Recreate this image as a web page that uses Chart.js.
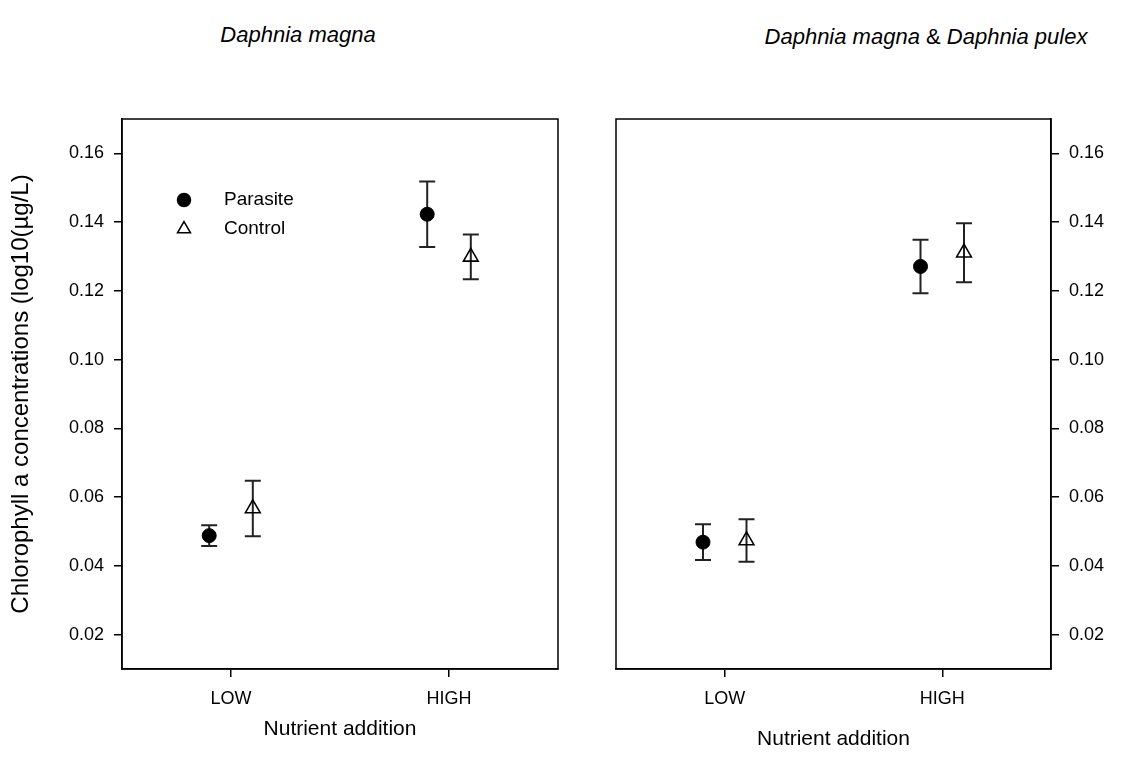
<!DOCTYPE html>
<html><head><meta charset="utf-8">
<script src="https://cdn.jsdelivr.net/npm/chart.js@4.4.1/dist/chart.umd.min.js"></script>
<style>
html,body{margin:0;padding:0;background:#fff;width:1125px;height:763px;overflow:hidden;}
#wrap{position:relative;width:1125px;height:763px;}
canvas{position:absolute;top:0;}
.t{position:absolute;font-family:'Liberation Sans',Arial,sans-serif;font-size:22px;color:#000;white-space:nowrap;transform:translate(-50%,-50%);}
</style></head><body>
<div id="wrap">
<div class="t" style="left:298px;top:35px"><i>Daphnia magna</i></div>
<div class="t" style="left:926px;top:37px"><i>Daphnia magna</i> &amp; <i>Daphnia pulex</i></div>
<canvas id="c1" width="590" height="763" style="left:0;width:590px;height:763px"></canvas>
<canvas id="c2" width="535" height="763" style="left:590px;width:535px;height:763px"></canvas>
</div>
<script>
// ---- data ----
const categories = ['LOW', 'HIGH'];
const seriesNames = ['Parasite', 'Control'];
const yTicks = [0.02, 0.04, 0.06, 0.08, 0.10, 0.12, 0.14, 0.16];
// Daphnia magna panel
const magnaParasite = [0.0488, 0.1423];
const magnaParasiteErr = [0.0030, 0.0095];
const magnaControl = [0.0567, 0.1299];
const magnaControlErr = [0.0081, 0.0065];
// Daphnia magna & Daphnia pulex panel
const mixParasite = [0.0469, 0.1271];
const mixParasiteErr = [0.0052, 0.0078];
const mixControl = [0.0474, 0.1311];
const mixControlErr = [0.0062, 0.0086];

const FONT = "'Liberation Sans', Arial, sans-serif";
Chart.defaults.font.family = FONT;
Chart.defaults.color = '#000';
const DODGE = 0.1;

function pts(vals, shift) { return vals.map((v, i) => ({ x: i + 1 + shift, y: v })); }

const errorBars = {
  id: 'errorBars',
  beforeDatasetsDraw(chart) {
    const ctx = chart.ctx, ys = chart.scales.y;
    ctx.save();
    ctx.strokeStyle = '#222';
    ctx.lineWidth = 2;
    chart.data.datasets.forEach((ds, di) => {
      const meta = chart.getDatasetMeta(di);
      meta.data.forEach((el, i) => {
        const v = ds.data[i].y, e = ds.err[i];
        const yt = ys.getPixelForValue(v + e), yb = ys.getPixelForValue(v - e);
        const x = el.x, cw = 8;
        ctx.beginPath();
        ctx.moveTo(x, yt); ctx.lineTo(x, yb);
        ctx.moveTo(x - cw, yt); ctx.lineTo(x + cw, yt);
        ctx.moveTo(x - cw, yb); ctx.lineTo(x + cw, yb);
        ctx.stroke();
      });
    });
    ctx.restore();
  }
};

const frame = {
  id: 'frame',
  afterDraw(chart) {
    const a = chart.chartArea, ctx = chart.ctx;
    ctx.save();
    ctx.strokeStyle = '#000';
    ctx.lineWidth = 1.5;
    ctx.strokeRect(a.left, a.top, a.right - a.left, a.bottom - a.top);
    ctx.restore();
  }
};

const inLegend = {
  id: 'inLegend',
  afterDraw(chart, args, opts) {
    if (!opts.show) return;
    const ctx = chart.ctx, a = chart.chartArea;
    ctx.save();
    chart.data.datasets.forEach((ds, i) => {
      const x = a.left + 62, y = a.top + 81 + i * 29;
      ctx.strokeStyle = '#000';
      ctx.fillStyle = ds.pointBackgroundColor;
      ctx.lineWidth = 1.5;
      Chart.helpers.drawPoint(ctx, { pointStyle: ds.pointStyle, radius: ds.pointStyle === 'circle' ? 6.5 : 7.5, borderWidth: 1.5 }, x, y);
      ctx.fillStyle = '#000';
      ctx.font = '19px ' + FONT;
      ctx.textBaseline = 'middle';
      ctx.textAlign = 'left';
      ctx.fillText(ds.label, x + 40, y);
    });
    ctx.restore();
  }
};

function makePanel(id, par, parErr, con, conErr, side, geo) {
  const datasets = [
    { label: seriesNames[0], data: pts(par, -DODGE), err: parErr, pointStyle: 'circle', pointRadius: 7,
      pointBackgroundColor: '#000', pointBorderColor: '#000', pointBorderWidth: 1, showLine: false },
    { label: seriesNames[1], data: pts(con, DODGE), err: conErr, pointStyle: 'triangle', pointRadius: 8.5,
      pointBackgroundColor: 'rgba(0,0,0,0)', pointBorderColor: '#000', pointBorderWidth: 1.6, showLine: false }
  ];
  return new Chart(document.getElementById(id), {
    type: 'scatter',
    data: { datasets },
    plugins: [errorBars, frame, inLegend],
    options: {
      responsive: false, animation: false, devicePixelRatio: 1,
      layout: { padding: geo.padding },
      plugins: { legend: { display: false }, tooltip: { enabled: false }, inLegend: { show: side === 'left' } },
      scales: {
        x: {
          type: 'linear', min: 0.5, max: 2.5,
          afterBuildTicks: s => { s.ticks = categories.map((c, i) => ({ value: i + 1 })); },
          ticks: { callback: v => categories[Math.round(v) - 1], font: { size: 18 }, color: '#000', padding: 11, maxRotation: 0, autoSkip: false },
          grid: { drawOnChartArea: false, tickLength: 8, color: '#000', lineWidth: 1.5 },
          border: { display: true, color: '#000', width: 1.5 },
          title: { display: true, text: 'Nutrient addition', font: { size: 21 }, color: '#000', padding: { top: 0, bottom: geo.xTitlePad } },
          afterFit: s => { s.height = geo.xHeight; }
        },
        y: {
          type: 'linear', position: side, min: 0.01, max: 0.17,
          afterBuildTicks: s => { s.ticks = yTicks.map(v => ({ value: v })); },
          ticks: { callback: v => v.toFixed(2), font: { size: 18 }, color: '#000', padding: 10 },
          grid: { drawOnChartArea: false, tickLength: 8, color: '#000', lineWidth: 1.5 },
          border: { display: true, color: '#000', width: 1.5 },
          title: { display: side === 'left', text: 'Chlorophyll a concentrations (log10(µg/L)', font: { size: 24 }, color: '#000', padding: { top: 7, bottom: 0 } },
          afterFit: s => { s.width = geo.yWidth; }
        }
      }
    }
  });
}

makePanel('c1', magnaParasite, magnaParasiteErr, magnaControl, magnaControlErr, 'left',
  { padding: { left: 0, right: 32, top: 119, bottom: 0 }, xHeight: 94, yWidth: 122, xTitlePad: 21 });
makePanel('c2', mixParasite, mixParasiteErr, mixControl, mixControlErr, 'right',
  { padding: { left: 26, right: 0, top: 119, bottom: 0 }, xHeight: 94, yWidth: 74, xTitlePad: 11 });
</script>
</body></html>
